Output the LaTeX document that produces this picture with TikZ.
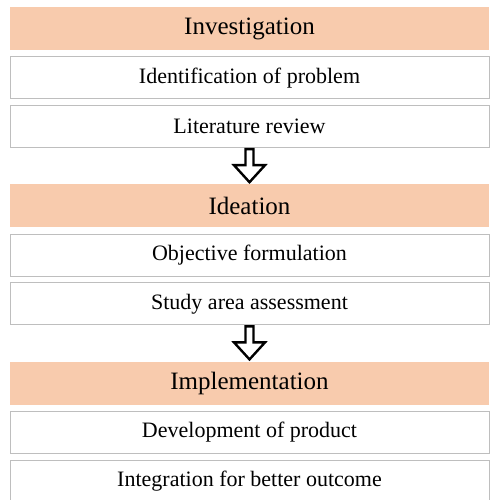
\documentclass[tikz,border=0pt]{standalone}
\usepackage{fontspec}
\setmainfont{Liberation Serif}
\usetikzlibrary{positioning,calc}

\definecolor{peach}{RGB}{248,203,173}
\definecolor{boxline}{RGB}{190,190,190}

% hollow block arrow from one node down to the next
\newcommand{\hollowarrow}[2]{
  \draw[arrowbody]
    ($(#1.south)+(-4,-1)$) -- ($(#1.south)+(-4,-17)$) -- ($(#1.south)+(-15.5,-17)$)
    -- ($(#2.north)+(0,2)$)
    -- ($(#1.south)+(15.5,-17)$) -- ($(#1.south)+(4,-17)$) -- ($(#1.south)+(4,-1)$) -- cycle;
}

\begin{document}
\begin{tikzpicture}[
    x=1pt, y=1pt,
    node distance=6pt,
    phase/.style={fill=peach, minimum width=479pt, minimum height=43pt, inner sep=0pt,
      font=\fontsize{25}{28}\selectfont},
    task/.style={draw=boxline, line width=0.9pt, fill=white, minimum width=479pt,
      minimum height=42pt, inner sep=0pt, font=\fontsize{22}{25}\selectfont},
    arrowbody/.style={draw=black, line width=2.4pt, fill=white, line join=miter},
  ]
  \useasboundingbox (0,0) rectangle (495,500);

  \node[phase, anchor=north] (invest) at (249.5,493) {Investigation};
  \node[task, below=of invest] (ident) {Identification of problem};
  \node[task, below=of ident] (lit) {Literature review};

  \node[phase, below=36pt of lit] (idea) {Ideation};
  \node[task, below=of idea] (obj) {Objective formulation};
  \node[task, below=of obj] (study) {Study area assessment};

  \node[phase, below=36pt of study] (impl) {Implementation};
  \node[task, below=of impl] (dev) {Development of product};
  \node[task, below=of dev] (integ) {Integration for better outcome};

  \hollowarrow{lit}{idea}
  \hollowarrow{study}{impl}
\end{tikzpicture}
\end{document}
